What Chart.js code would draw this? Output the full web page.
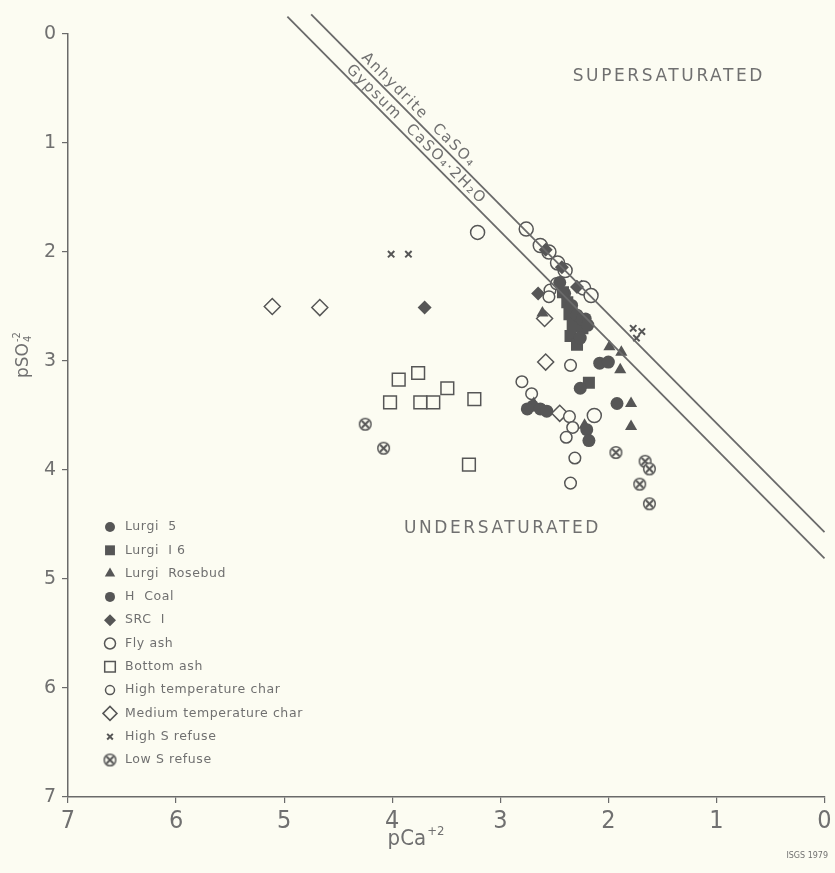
<!DOCTYPE html>
<html>
<head>
<meta charset="utf-8">
<script src="https://cdn.jsdelivr.net/npm/chart.js@4.4.0/dist/chart.umd.min.js"></script>
<style>
  body { margin: 0; background: #fcfcf2; }
  #wrap { width: 835px; height: 873px; }
</style>
</head>
<body>
<div id="wrap"><canvas id="satChart"></canvas></div>
<script>
// pCa+2 (x) and pSO4-2 (y) for each sample group
const lurgi5Ca   = [2.45, 2.34, 2.29, 2.24, 2.19, 2.26, 2.08, 2.00, 2.26, 1.92, 2.75, 2.63, 2.57, 2.20, 2.18];
const lurgi5SO4  = [2.28, 2.49, 2.58, 2.62, 2.67, 2.79, 3.02, 3.01, 3.25, 3.39, 3.44, 3.44, 3.46, 3.63, 3.73];
const lurgi6Ca   = [2.42, 2.38, 2.36, 2.33, 2.35, 2.29, 2.18, 2.24];
const lurgi6SO4  = [2.37, 2.46, 2.57, 2.68, 2.77, 2.85, 3.20, 2.70];
const rosebudCa  = [2.61, 1.99, 1.88, 1.89, 1.79, 1.79, 2.22, 2.69];
const rosebudSO4 = [2.56, 2.87, 2.92, 3.08, 3.39, 3.60, 3.59, 3.39];
const hCoalCa    = [2.40, 2.70, 2.21];
const hCoalSO4   = [2.38, 3.41, 2.61];
const srcCa      = [3.70, 2.58, 2.43, 2.29, 2.65];
const srcSO4     = [2.51, 1.98, 2.14, 2.32, 2.38];
const flyAshCa   = [3.21, 2.76, 2.63, 2.55, 2.47, 2.40, 2.23, 2.16, 2.13];
const flyAshSO4  = [1.82, 1.79, 1.94, 2.00, 2.10, 2.17, 2.33, 2.40, 3.50];
const bottomCa   = [3.94, 3.76, 3.49, 4.02, 3.74, 3.62, 3.24, 3.29];
const bottomSO4  = [3.17, 3.11, 3.25, 3.38, 3.38, 3.38, 3.35, 3.95];
const hiCharCa   = [2.54, 2.55, 2.48, 2.29, 2.35, 2.80, 2.71, 2.36, 2.33, 2.39, 2.31, 2.35];
const hiCharSO4  = [2.35, 2.41, 2.29, 2.72, 3.04, 3.19, 3.30, 3.51, 3.61, 3.70, 3.89, 4.12];
const medCharCa  = [5.11, 4.67, 2.59, 2.58, 2.45];
const medCharSO4 = [2.50, 2.51, 2.61, 3.01, 3.48];
const hiSCa      = [4.01, 3.85, 1.77, 1.69, 1.74, 2.27];
const hiSSO4     = [2.02, 2.02, 2.70, 2.73, 2.79, 2.29];
const loSCa      = [4.25, 4.08, 1.93, 1.66, 1.62, 1.71, 1.62];
const loSSO4     = [3.58, 3.80, 3.84, 3.92, 3.99, 4.13, 4.31];

// saturation lines (end points)
const anhydriteCa  = [4.75, 0];
const anhydriteSO4 = [-0.18, 4.57];
const gypsumCa     = [4.97, 0];
const gypsumSO4    = [-0.16, 4.81];

const axisTicks = [0, 1, 2, 3, 4, 5, 6, 7];

const BG = '#fcfcf2';
const DARK = '#565656';
const LINE = '#6a6a6a';
const TEXT = '#707070';
const NARROW = '"Liberation Sans Narrow", "DejaVu Sans Condensed", sans-serif';

function pts(xs, ys) {
    return xs.map((x, i) => ({ x: x, y: ys[i] }));
}

// circle with an X through it, used for the low S refuse marker
function crossedCircle() {
    const c = document.createElement('canvas');
    c.width = 15; c.height = 15;
    const g = c.getContext('2d');
    g.strokeStyle = DARK;
    g.lineWidth = 1.5;
    g.beginPath();
    g.arc(7.5, 7.5, 5.8, 0, Math.PI * 2);
    g.fillStyle = BG;
    g.fill();
    g.stroke();
    g.lineWidth = 2;
    g.beginPath();
    g.moveTo(4, 4); g.lineTo(11, 11);
    g.moveTo(11, 4); g.lineTo(4, 11);
    g.stroke();
    return c;
}

function group(label, xs, ys, style, radius, filled, keyRadius, width) {
    return {
        label: label,
        data: pts(xs, ys),
        pointStyle: style,
        pointRadius: radius,
        backgroundColor: filled ? DARK : BG,
        borderColor: DARK,
        borderWidth: width === undefined ? (filled ? 0 : 1.5) : width,
        inKey: true,
        keyRadius: keyRadius
    };
}

function satLine(xs, ys) {
    return {
        data: pts(xs, ys),
        showLine: true,
        pointRadius: 0,
        borderColor: LINE,
        borderWidth: 1.8,
        clip: false,
        inKey: false
    };
}

const lowSImg = crossedCircle();

const datasets = [
    satLine(anhydriteCa, anhydriteSO4),
    satLine(gypsumCa, gypsumSO4),
    group('Lurgi  5', lurgi5Ca, lurgi5SO4, 'circle', 6.5, true, 5),
    group('Lurgi  I 6', lurgi6Ca, lurgi6SO4, 'rect', 8.5, true, 7),
    group('Lurgi  Rosebud', rosebudCa, rosebudSO4, 'triangle', 7, true, 6),
    group('H  Coal', hCoalCa, hCoalSO4, 'circle', 6, true, 5),
    group('SRC  I', srcCa, srcSO4, 'rectRot', 7, true, 6),
    group('Fly ash', flyAshCa, flyAshSO4, 'circle', 7, false, 5.5),
    group('Bottom ash', bottomCa, bottomSO4, 'rect', 9, false, 7.5),
    group('High temperature char', hiCharCa, hiCharSO4, 'circle', 5.8, false, 4.5),
    group('Medium temperature char', medCharCa, medCharSO4, 'rectRot', 8, false, 7),
    group('High S refuse', hiSCa, hiSSO4, 'crossRot', 4.5, false, 4, 2),
    group('Low S refuse', loSCa, loSSO4, lowSImg, 7, false, 7)
];

const paperBg = {
    id: 'paperBg',
    beforeDraw(chart) {
        const ctx = chart.ctx;
        ctx.save();
        ctx.fillStyle = BG;
        ctx.fillRect(0, 0, chart.width, chart.height);
        ctx.restore();
    }
};

// text with a raised suffix, e.g. pCa with +2 above
function supText(ctx, base, sup, sub, x, y, size, family) {
    ctx.font = size + 'px ' + family;
    const w1 = ctx.measureText(base).width;
    ctx.font = Math.round(size * 0.6) + 'px ' + family;
    const w2 = Math.max(ctx.measureText(sup).width, sub ? ctx.measureText(sub).width : 0);
    let left = x - (w1 + w2 + 1) / 2;
    ctx.font = size + 'px ' + family;
    ctx.fillText(base, left, y);
    ctx.font = Math.round(size * 0.6) + 'px ' + family;
    ctx.fillText(sup, left + w1 + 1, y - size * 0.45);
    if (sub) ctx.fillText(sub, left + w1 + 1, y + size * 0.15);
}

// axis names, region labels, line names and the symbol key
const notes = {
    id: 'notes',
    afterDatasetsDraw(chart) {
        const ctx = chart.ctx;
        const xs = chart.scales.x, ys = chart.scales.y;
        ctx.save();
        ctx.fillStyle = TEXT;
        ctx.textBaseline = 'alphabetic';
        ctx.textAlign = 'left';
        supText(ctx, 'pCa', '+2', null, 416, 845, 22, NARROW);
        ctx.save();
        ctx.translate(28, 355);
        ctx.rotate(-Math.PI / 2);
        supText(ctx, 'pSO', '-2', '4', 0, 0, 17, '"DejaVu Sans"');
        ctx.restore();

        ctx.textBaseline = 'middle';
        ctx.textAlign = 'center';
        ctx.font = '17px "DejaVu Sans"';
        ctx.letterSpacing = '2.6px';
        ctx.fillText('SUPERSATURATED', xs.getPixelForValue(1.44), ys.getPixelForValue(0.39));
        ctx.fillText('UNDERSATURATED', xs.getPixelForValue(2.98), ys.getPixelForValue(4.54));

        // labels running along the two saturation lines
        ctx.font = '15px "DejaVu Sans"';
        ctx.letterSpacing = '1.6px';
        ctx.textAlign = 'left';
        ctx.textBaseline = 'bottom';
        const along = [
            ['Anhydrite  CaSO\u2084', 4.32, 0.25],
            ['Gypsum  CaSO\u2084\u00b72H\u2082O', 4.46, 0.36]
        ];
        along.forEach(a => {
            ctx.save();
            ctx.translate(xs.getPixelForValue(a[1]), ys.getPixelForValue(a[2]));
            ctx.rotate(Math.PI / 4);
            ctx.fillText(a[0], 0, -1);
            ctx.restore();
        });

        // symbol key
        ctx.font = '12.5px "DejaVu Sans"';
        ctx.letterSpacing = '0.6px';
        ctx.textBaseline = 'middle';
        let row = 0;
        chart.data.datasets.forEach(ds => {
            if (!ds.inKey) return;
            const y = 527 + row * 23.3;
            ctx.fillStyle = ds.backgroundColor;
            ctx.strokeStyle = ds.borderColor;
            ctx.lineWidth = ds.borderWidth;
            Chart.helpers.drawPoint(ctx, {
                pointStyle: ds.pointStyle,
                radius: ds.keyRadius,
                borderWidth: ds.borderWidth,
                rotation: 0
            }, 110, y);
            ctx.fillStyle = TEXT;
            ctx.fillText(ds.label, 125, y);
            row++;
        });

        ctx.font = '8px "DejaVu Sans"';
        ctx.letterSpacing = '0px';
        ctx.textAlign = 'right';
        ctx.fillText('ISGS 1979', 828, 856);
        ctx.restore();
    }
};

new Chart(document.getElementById('satChart'), {
    type: 'scatter',
    data: { datasets: datasets },
    options: {
        responsive: true,
        maintainAspectRatio: false,
        animation: false,
        events: [],
        layout: { padding: { left: 0, right: 6, top: 34, bottom: 0 } },
        plugins: {
            legend: { display: false },
            tooltip: { enabled: false }
        },
        scales: {
            x: {
                type: 'linear',
                reverse: true,
                min: 0,
                max: 7,
                afterFit: s => { s.height = 76; },
                afterBuildTicks: s => { s.ticks = axisTicks.map(v => ({ value: v })); },
                border: { color: LINE, width: 1.5 },
                grid: { drawOnChartArea: false, color: LINE, tickLength: 6, lineWidth: 1.2 },
                ticks: {
                    color: TEXT,
                    padding: 3,
                    font: { family: NARROW, size: 25 }
                }
            },
            y: {
                type: 'linear',
                reverse: true,
                min: 0,
                max: 7,
                afterFit: s => { s.width = 68; },
                afterBuildTicks: s => { s.ticks = axisTicks.map(v => ({ value: v })); },
                border: { color: LINE, width: 1.5 },
                grid: { drawOnChartArea: false, color: LINE, tickLength: 6, lineWidth: 1.2 },
                ticks: {
                    color: TEXT,
                    padding: 6,
                    font: { family: '"DejaVu Sans"', size: 19 }
                }
            }
        }
    },
    plugins: [paperBg, notes]
});
</script>
</body>
</html>
